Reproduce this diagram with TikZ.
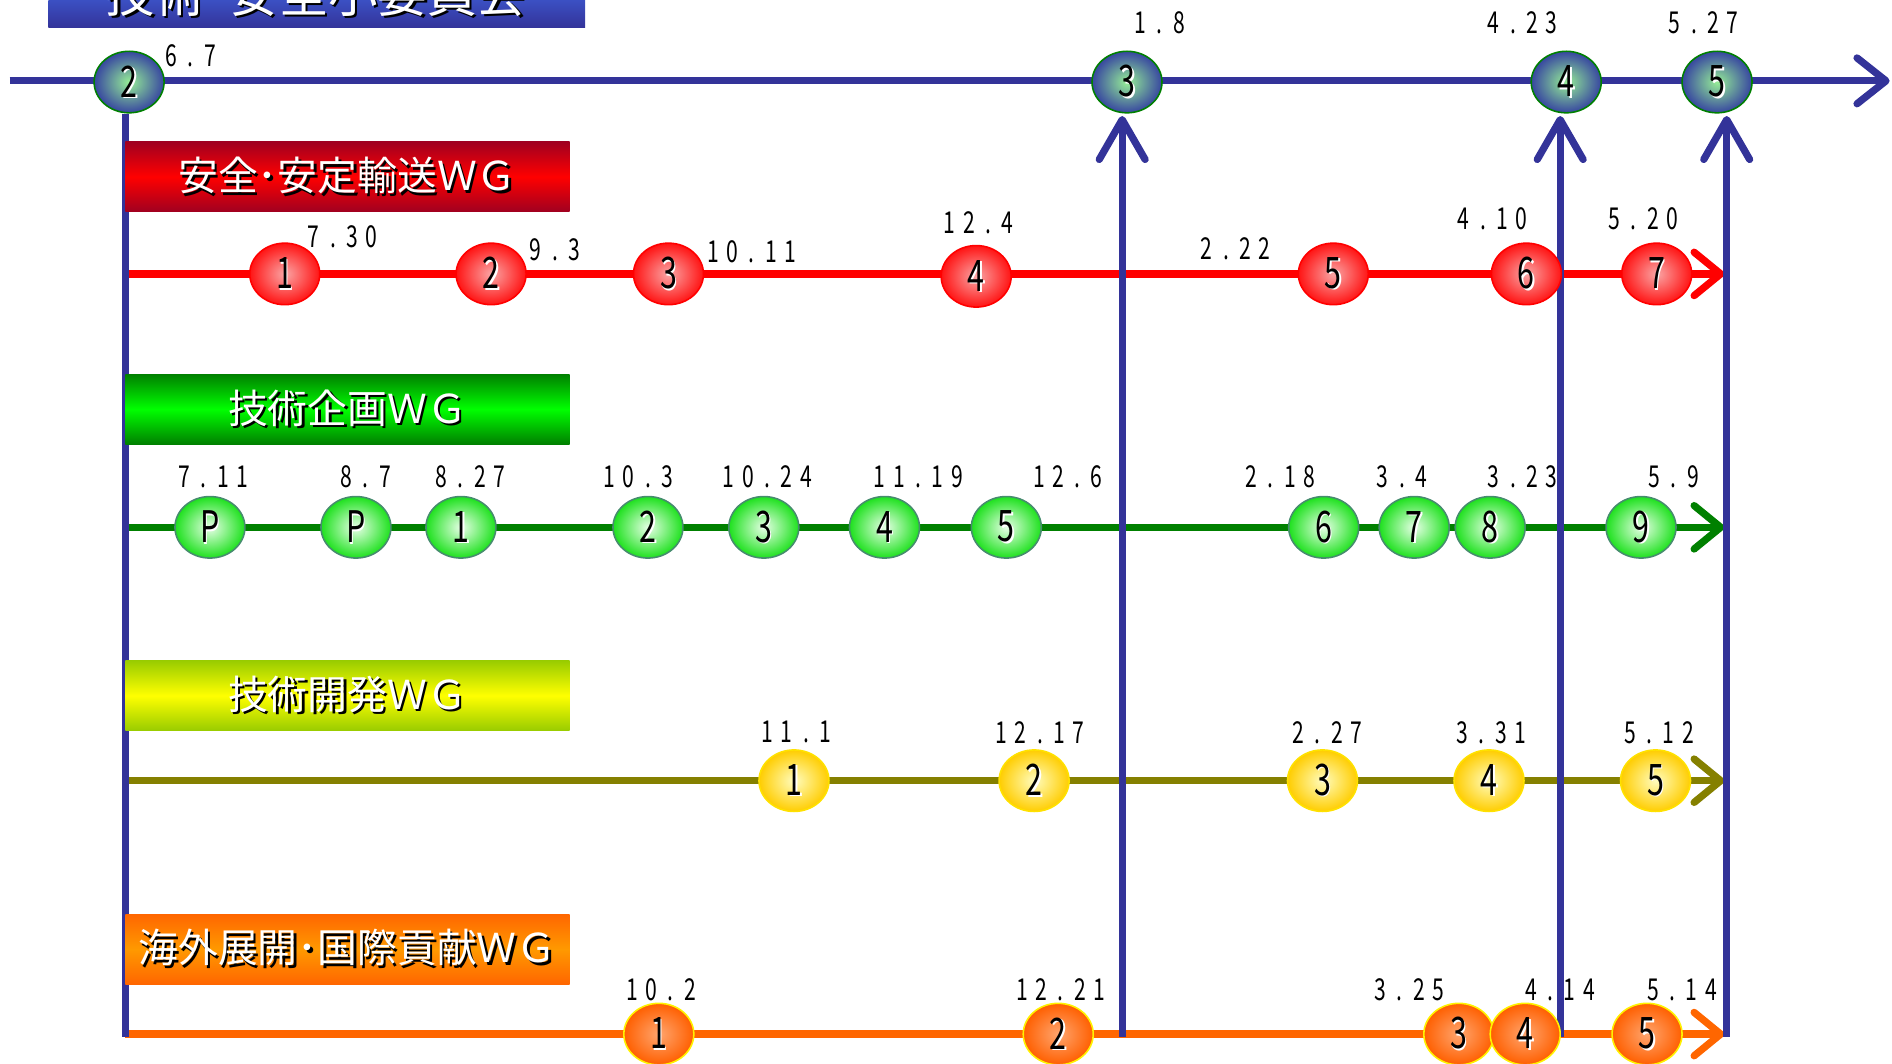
\documentclass[tikz,border=0pt]{standalone}
\usepackage{fontspec}
\setmainfont{Noto Sans CJK JP}
\newfontfamily\numfont[FakeStretch=0.7]{Noto Sans CJK JP}
\usetikzlibrary{shapes.geometric,arrows.meta}
\definecolor{bl}{HTML}{333399}
\definecolor{hdtop}{HTML}{4572F5}
\definecolor{rdark}{HTML}{A00020}
\definecolor{gdark}{HTML}{008000}
\definecolor{gbright}{HTML}{00FF00}
\definecolor{ydark}{HTML}{99CC00}
\definecolor{ybright}{HTML}{FFFF00}
\definecolor{oline}{HTML}{FF6600}
\definecolor{obright}{HTML}{FF9900}
\definecolor{olv}{HTML}{858000}
\newcommand\nsh[1]{\raisebox{-2pt}{\rlap{\hspace{1.3pt}\raisebox{-1.3pt}{\textcolor{white}{#1}}}#1}}
\newcommand\wsh[1]{\raisebox{-2pt}{\rlap{\hspace{2pt}\raisebox{-2pt}{\textcolor{black}{#1}}}\textcolor{white}{#1}}}
\makeatletter
\newcommand\dsp[1]{\@tfor\dch:=#1\do{\makebox[16pt]{\dch}}}
\makeatother
\tikzset{
  ms/.style={ellipse, minimum width=58pt, minimum height=51pt, inner sep=0pt, line width=1.3pt,
    font=\numfont\fontsize{36}{36}\selectfont},
  topn/.style={ms, draw=gdark, inner color={rgb,255:red,150;green,238;blue,150}, outer color={rgb,255:red,55;green,70;blue,160}},
  rn/.style={ms, draw=red, inner color={rgb,255:red,250;green,165;blue,165}, outer color={rgb,255:red,255;green,20;blue,20}},
  gn/.style={ms, draw={rgb,255:red,70;green,140;blue,110}, inner color={rgb,255:red,230;green,255;blue,230}, outer color={rgb,255:red,30;green,225;blue,30}},
  yn/.style={ms, draw={rgb,255:red,255;green,225;blue,0}, inner color={rgb,255:red,255;green,252;blue,190}, outer color={rgb,255:red,255;green,205;blue,0}},
  on/.style={ms, draw=yellow, inner color={rgb,255:red,255;green,165;blue,110}, outer color={rgb,255:red,255;green,95;blue,0}},
  dl/.style={font=\numfont\fontsize{25}{25}\selectfont, inner sep=0pt},
  wgbox/.style={minimum width=368pt, minimum height=58pt, inner sep=0pt, font=\fontsize{33}{33}\selectfont},
  tl/.style={line width=6pt},
  vline/.style={line width=6pt, draw=bl},
  hchev/.style={-{Straight Barb[length=24pt,width=38pt,round]}},
  wchev/.style={-{Straight Barb[length=22pt,width=36pt,round]}},
  vchev/.style={-{Straight Barb[length=33pt,width=38pt,round]}, shorten >=2pt}
}
\begin{document}
\begin{tikzpicture}[x=1pt,y=-1pt]
\useasboundingbox (0,0) rectangle (1568,881);
\clip (0,0) rectangle (1568,881);
% header
\node[minimum width=445pt, minimum height=50pt, inner sep=0pt, top color=hdtop, bottom color=bl] (hdr) at (262.5,-2) {};
\node[anchor=base, inner sep=0pt, font=\fontsize{41}{41}\selectfont] (hdrt) at (262,8) {\wsh{技術･安全小委員会}};
% top timeline
\coordinate (ts) at (8,67);
\coordinate (te) at (1566,67);
\draw[bl, tl, hchev] (ts) -- (te);
\node[topn] (t2) at (107,68) {\nsh{2}};
\node[topn] (t3) at (934,68) {\nsh{3}};
\node[topn] (t4) at (1298,68) {\nsh{4}};
\node[topn] (t5) at (1423,68) {\nsh{5}};
\node[dl] (td2) at (158,46) {\dsp{6.7}};
\node[dl] (td3) at (961,19) {\dsp{1.8}};
\node[dl] (td4) at (1262,19) {\dsp{4.23}};
\node[dl] (td5) at (1412,19) {\dsp{5.27}};
% WG lines
\coordinate (rs) at (104,227); \coordinate (re) at (1429,227);
\coordinate (gs) at (104,437); \coordinate (ge) at (1429,437);
\coordinate (ys) at (104,647); \coordinate (ye) at (1429,647);
\coordinate (os) at (104,857); \coordinate (oe) at (1429,857);
\draw[red, tl, wchev] (rs) -- (re);
\draw[gdark, tl, wchev] (gs) -- (ge);
\draw[olv, tl, wchev] (ys) -- (ye);
\draw[oline, tl, wchev] (os) -- (oe);
% vertical lines
\coordinate (lb) at (104,859);
\coordinate (v1b) at (930,859);
\coordinate (v2b) at (1293,859);
\coordinate (v3b) at (1431,859);
\draw[vline] (lb) -- (lb |- t2.south);
\draw[vline, vchev] (v1b) -- (v1b |- t3.south);
\draw[vline, vchev] (v2b) -- (v2b |- t4.south);
\draw[vline, vchev] (v3b) -- (v3b |- t5.south);
% WG boxes
\node[wgbox, top color=rdark, bottom color=rdark, middle color=red] (wgR) at (288,146.5) {\wsh{安全･安定輸送ＷＧ}};
\node[wgbox, top color=gdark, bottom color=gdark, middle color=gbright] (wgG) at (288,339) {\wsh{技術企画ＷＧ}};
\node[wgbox, top color=ydark, bottom color=ydark, middle color=ybright] (wgY) at (288,576.5) {\wsh{技術開発ＷＧ}};
\node[wgbox, top color=oline, bottom color=oline, middle color=obright] (wgO) at (288,786.5) {\wsh{海外展開･国際貢献ＷＧ}};
% red row
\node[rn] (r1) at (236,227) {\nsh{1}};
\node[rn] (r2) at (407,227) {\nsh{2}};
\node[rn] (r3) at (554,227) {\nsh{3}};
\node[rn] (r4) at (809,229) {\nsh{4}};
\node[rn] (r5) at (1105,227) {\nsh{5}};
\node[rn] (r6) at (1265,227) {\nsh{6}};
\node[rn] (r7) at (1373,227) {\nsh{7}};
\node[dl] (rd1) at (284,196) {\dsp{7.30}};
\node[dl] (rd2) at (460,207) {\dsp{9.3}};
\node[dl] (rd3) at (623,209) {\dsp{10.11}};
\node[dl] (rd4) at (811,185) {\dsp{12.4}};
\node[dl] (rd5) at (1024,206) {\dsp{2.22}};
\node[dl] (rd6) at (1237,181) {\dsp{4.10}};
\node[dl] (rd7) at (1362,181) {\dsp{5.20}};
% green row
\node[gn] (gp1) at (174,437) {\nsh{P}};
\node[gn] (gp2) at (295,437) {\nsh{P}};
\node[gn] (g1) at (382,437) {\nsh{1}};
\node[gn] (g2) at (537,437) {\nsh{2}};
\node[gn] (g3) at (633,437) {\nsh{3}};
\node[gn] (g4) at (733,437) {\nsh{4}};
\node[gn] (g5) at (834,437) {\nsh{5}};
\node[gn] (g6) at (1097,437) {\nsh{6}};
\node[gn] (g7) at (1172,437) {\nsh{7}};
\node[gn] (g8) at (1235,437) {\nsh{8}};
\node[gn] (g9) at (1360,437) {\nsh{9}};
\node[dl] (gdp1) at (177,395) {\dsp{7.11}};
\node[dl] (gdp2) at (303,395) {\dsp{8.7}};
\node[dl] (gd1) at (390,395) {\dsp{8.27}};
\node[dl] (gd2) at (529,395) {\dsp{10.3}};
\node[dl] (gd3) at (636,395) {\dsp{10.24}};
\node[dl] (gd4) at (761,395) {\dsp{11.19}};
\node[dl] (gd5) at (885,395) {\dsp{12.6}};
\node[dl] (gd6) at (1061,395) {\dsp{2.18}};
\node[dl] (gd7) at (1162,395) {\dsp{3.4}};
\node[dl] (gd8) at (1262,395) {\dsp{3.23}};
\node[dl] (gd9) at (1387,395) {\dsp{5.9}};
% yellow row
\node[yn] (y1) at (658,647) {\nsh{1}};
\node[yn] (y2) at (857,647) {\nsh{2}};
\node[yn] (y3) at (1096,647) {\nsh{3}};
\node[yn] (y4) at (1234,647) {\nsh{4}};
\node[yn] (y5) at (1372,647) {\nsh{5}};
\node[dl] (yd1) at (660,607) {\dsp{11.1}};
\node[dl] (yd2) at (862,607) {\dsp{12.17}};
\node[dl] (yd3) at (1100,607) {\dsp{2.27}};
\node[dl] (yd4) at (1236,607) {\dsp{3.31}};
\node[dl] (yd5) at (1375,607) {\dsp{5.12}};
% orange row
\node[on] (o1) at (546,857) {\nsh{1}};
\node[on] (o2) at (877,857) {\nsh{2}};
\node[on] (o3) at (1209,857) {\nsh{3}};
\node[on] (o4) at (1264,857) {\nsh{4}};
\node[on] (o5) at (1365,857) {\nsh{5}};
\node[dl] (od1) at (548,820) {\dsp{10.2}};
\node[dl] (od2) at (879,820) {\dsp{12.21}};
\node[dl] (od3) at (1168,820) {\dsp{3.25}};
\node[dl] (od4) at (1293,820) {\dsp{4.14}};
\node[dl] (od5) at (1394,820) {\dsp{5.14}};
\end{tikzpicture}
\end{document}
